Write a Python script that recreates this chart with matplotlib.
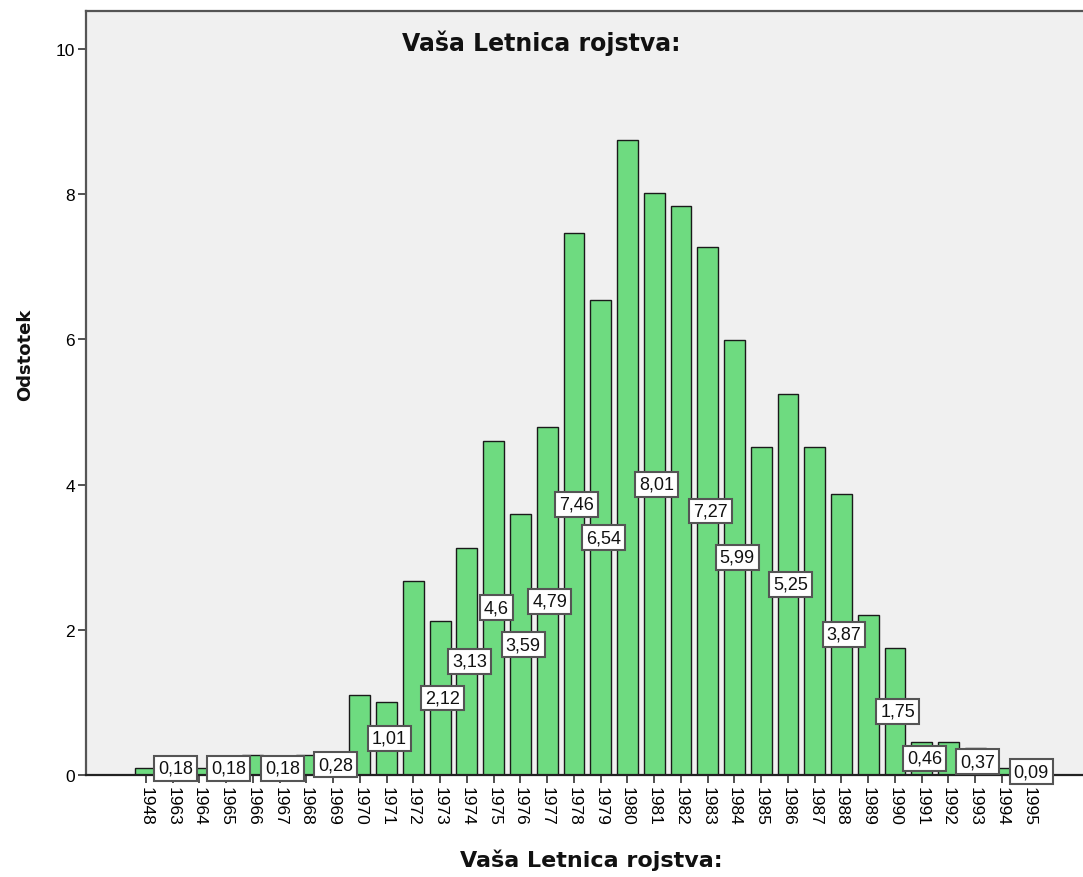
import matplotlib
matplotlib.use("Agg")
import matplotlib.pyplot as plt

years = ["1948", "1963", "1964", "1965", "1966", "1967", "1968", "1969", "1970", "1971",
         "1972", "1973", "1974", "1975", "1976", "1977", "1978", "1979", "1980", "1981",
         "1982", "1983", "1984", "1985", "1986", "1987", "1988", "1989", "1990", "1991",
         "1992", "1993", "1994", "1995"]
percent = [0.09, 0.18, 0.09, 0.18, 0.28, 0.18, 0.28, 0.28, 1.10, 1.01,
           2.67, 2.12, 3.13, 4.60, 3.59, 4.79, 7.46, 6.54, 8.75, 8.01,
           7.83, 7.27, 5.99, 4.51, 5.25, 4.51, 3.87, 2.21, 1.75, 0.46,
           0.46, 0.37, 0.09, 0.09]
labeled_years = ["1963", "1965", "1967", "1969", "1971", "1973", "1974", "1975", "1976",
                 "1977", "1978", "1979", "1981", "1983", "1984", "1986", "1988", "1990",
                 "1991", "1993", "1995"]
y_ticks = [0, 2, 4, 6, 8, 10]
title = "Vaša Letnica rojstva:"
x_label = "Vaša Letnica rojstva:"
y_label = "Odstotek"

W, H = 1083, 878
fig = plt.figure(figsize=(W / 100, H / 100), dpi=100)
fig.patch.set_facecolor("white")
ax = fig.add_axes([86 / W, (H - 776) / H, (W - 86) / W, (776 - 12) / H])
ax.set_facecolor("#F0F0F0")

xs = list(range(len(years)))
ax.bar(xs, percent, width=0.78, color="#6EDB80", edgecolor="#1a1a1a", linewidth=1.0, zorder=2)

for x, y, v in zip(xs, percent, years):
    if v in labeled_years:
        txt = f"{percent[x]:g}".replace(".", ",")
        ax.text(x + 0.1, y / 2, txt, ha="center", va="center", fontsize=13,
                family="Liberation Sans", color="#111111", zorder=5, clip_on=False,
                bbox=dict(boxstyle="square,pad=0.22", fc="white", ec="#555555", lw=1.5))

ax.set_xlim(-2.24, 35.03)
ax.set_ylim(0, 10.52)
ax.set_xticks(xs)
ax.set_xticklabels(years, rotation=-90, fontsize=12.5, family="Liberation Sans")
ax.set_yticks(y_ticks)
ax.set_yticklabels([str(t) for t in y_ticks], fontsize=12.5, family="Liberation Sans")
ax.tick_params(axis="both", direction="out", length=6, width=1.2, color="#333333", pad=2)

for s in ["left", "bottom", "top"]:
    ax.spines[s].set_color("#555555")
    ax.spines[s].set_linewidth(1.6)
ax.spines["bottom"].set_color("#222222")
ax.spines["right"].set_visible(False)

fig.text(541 / W, 1 - 43 / H, title, ha="center", va="center", fontsize=17,
         fontweight="bold", family="DejaVu Sans", color="#111111")
fig.text(591 / W, 1 - 860 / H, x_label, ha="center", va="center", fontsize=16,
         fontweight="bold", family="DejaVu Sans", color="#111111")
fig.text(25 / W, 1 - 355 / H, y_label, ha="center", va="center", rotation=90,
         fontsize=13, fontweight="bold", family="DejaVu Sans", color="#111111")

fig.savefig("out.png", dpi=100)
